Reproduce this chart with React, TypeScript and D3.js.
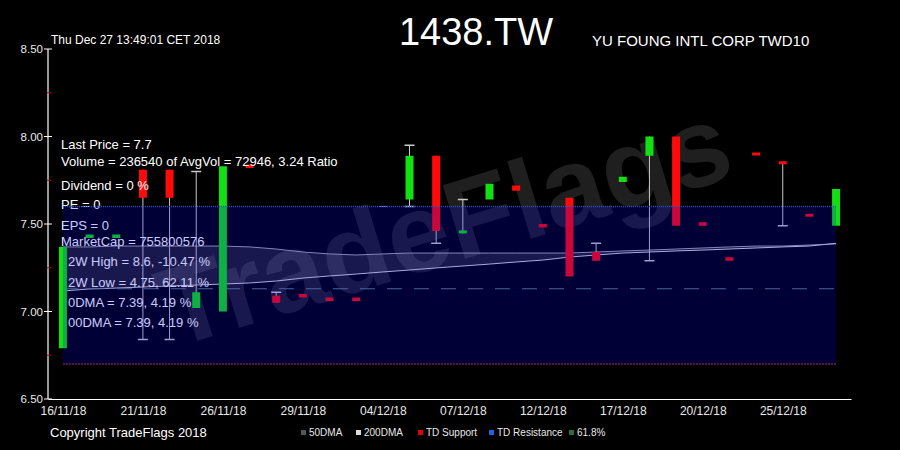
import React, { useEffect, useRef } from "react";
import * as d3 from "d3";

// trading days shown on the chart
const dates = [
  "16/11/18", "19/11/18", "20/11/18", "21/11/18", "22/11/18", "23/11/18",
  "26/11/18", "27/11/18", "28/11/18", "29/11/18", "30/11/18", "03/12/18",
  "04/12/18", "05/12/18", "06/12/18", "07/12/18", "10/12/18", "11/12/18",
  "12/12/18", "13/12/18", "14/12/18", "17/12/18", "18/12/18", "19/12/18",
  "20/12/18", "21/12/18", "24/12/18", "25/12/18", "26/12/18", "27/12/18",
];
const openVals = [
  6.79, 7.42, 7.42, 7.81, 7.81, 7.02, 7.0, 7.84, 7.09, 7.1, 7.08, 7.08,
  7.6, 7.64, 7.89, 7.445, 7.64, 7.72, 7.5, 7.65, 7.34, 7.74, 7.89, 8.0,
  7.51, 7.31, 7.9, 7.85, 7.55, 7.49,
];
const closeVals = [
  7.37, 7.44, 7.44, 7.65, 7.65, 7.11, 7.83, 7.82, 7.05, 7.08, 7.06, 7.06,
  7.6, 7.89, 7.46, 7.455, 7.73, 7.69, 7.48, 7.2, 7.29, 7.77, 8.0, 7.49,
  7.49, 7.29, 7.885, 7.835, 7.535, 7.7,
];
const highVals = [
  7.37, 7.44, 7.44, 7.81, 7.81, 7.8, 7.83, 7.84, 7.11, 7.1, 7.08, 7.08,
  7.6, 7.95, 7.89, 7.64, 7.73, 7.72, 7.5, 7.65, 7.39, 7.77, 8.0, 8.0,
  7.51, 7.31, 7.9, 7.85, 7.55, 7.7,
];
const lowVals = [
  6.79, 7.42, 7.42, 6.84, 6.84, 7.02, 7.0, 7.82, 7.05, 7.08, 7.06, 7.06,
  7.6, 7.6, 7.39, 7.445, 7.64, 7.69, 7.48, 7.2, 7.29, 7.74, 7.29, 7.49,
  7.49, 7.29, 7.885, 7.49, 7.535, 7.49,
];
const dma50 = [
  7.369, 7.369, 7.374, 7.374, 7.374, 7.374, 7.374, 7.369, 7.357, 7.34,
  7.329, 7.323, 7.329, 7.334, 7.334, 7.334, 7.334, 7.334, 7.334, 7.334,
  7.34, 7.346, 7.351, 7.357, 7.363, 7.369, 7.374, 7.374, 7.38, 7.386,
];
const dma200 = [
  7.117, 7.129, 7.134, 7.14, 7.146, 7.151, 7.157, 7.163, 7.174, 7.191,
  7.203, 7.214, 7.226, 7.237, 7.249, 7.26, 7.271, 7.283, 7.294, 7.311,
  7.323, 7.334, 7.34, 7.346, 7.351, 7.357, 7.363, 7.369, 7.374, 7.39,
];
const tdResistance = 7.6;
const tdSupport = 6.7;
const fib618 = 7.13;
const yTicks = [6.5, 7.0, 7.5, 8.0, 8.5];
const yMinorTicks = [6.75, 7.25, 7.75, 8.25];
const infoLines = [
  "Last Price = 7.7",
  "Volume = 236540 of AvgVol = 72946, 3.24 Ratio",
  "Dividend = 0 %",
  "PE = 0",
  "EPS = 0",
  "MarketCap = 755800576",
  "2W High = 8.6, -10.47 %",
  "2W Low = 4.75, 62.11 %",
  "0DMA = 7.39, 4.19 %",
  "00DMA = 7.39, 4.19 %",
];
const legendItems = [
  { name: "50DMA", color: "#4a5a55" },
  { name: "200DMA", color: "#dcdcdc" },
  { name: "TD Support", color: "#e00000" },
  { name: "TD Resistance", color: "#1a66e6" },
  { name: "61.8%", color: "#2f7030" },
];

const W = 900;
const H = 450;
const font = "'Liberation Sans', Arial, sans-serif";

export default function App() {
  const xAxisRef = useRef<SVGGElement>(null);

  useEffect(() => {
    document.body.style.margin = "0";
    document.body.style.background = "#000";
  }, []);

  const x = d3.scalePoint<string>().domain(dates).range([48, 851]).padding(0.56);
  const y = d3.scaleLinear().domain([6.5, 8.5]).range([399, 49]);

  useEffect(() => {
    const g = d3.select(xAxisRef.current);
    g.selectAll("*").remove();
    g.call(
      d3
        .axisBottom(x)
        .tickValues(dates.filter((_, i) => i % 3 === 0))
        .tickSize(0)
        .tickPadding(7)
    );
    g.select(".domain").attr("stroke", "#fff").attr("stroke-width", 1.2);
    g.selectAll("text")
      .attr("fill", "#e8e8e8")
      .style("font-family", font)
      .style("font-size", "12px");
  }, []);

  const area = d3
    .area<number>()
    .x((_, i) => x(dates[i])!)
    .y0((_, i) => y(dma200[i]))
    .y1((d) => y(d));
  const maLine = d3.line<number>().x((_, i) => x(dates[i])!).y((d) => y(d));

  const x0 = x(dates[0])!;
  const x1 = x(dates[dates.length - 1])!;
  const bw = 8;
  const capW = 10;
  const infoY = [149, 166, 190, 209, 230, 246, 266, 287, 307, 327];
  const legendX = [301, 356, 418, 489, 569];

  return (
    <svg width={W} height={H} style={{ display: "block", background: "#000" }}>
      <rect width={W} height={H} fill="#000" />
      {/* watermark */}
      <text
        x={455}
        y={262}
        textAnchor="middle"
        fontSize={112}
        fontWeight="bold"
        fontFamily={font}
        fill="#1f1f1f"
        transform="rotate(-17 455 262)"
      >
        TradeFlags
      </text>

      {/* moving averages */}
      <path d={area(dma50) || ""} fill="rgba(255,255,255,0.12)" />
      <path d={maLine(dma50) || ""} fill="none" stroke="#a8a8a8" strokeWidth={1} />
      <path d={maLine(dma200) || ""} fill="none" stroke="#d8d8d8" strokeWidth={1} />

      {/* 61.8% level */}
      <line x1={x0} x2={x1} y1={y(fib618)} y2={y(fib618)} stroke="#5f7f80" strokeWidth={1.2} strokeDasharray="15 12" />

      {/* candles */}
      {dates.map((d, i) => {
        const cx = x(d)!;
        const o = openVals[i];
        const c = closeVals[i];
        const top = Math.max(o, c);
        const bot = Math.min(o, c);
        const color = c > o ? "#12e012" : c < o ? "#ff0a0a" : "#8090c0";
        const flat = o === c;
        const bodyH = flat ? 1 : Math.max(3, y(bot) - y(top));
        const bodyTop = y(top) - (bodyH <= 3 ? bodyH / 2 : 0);
        const hasTop = highVals[i] > top + 0.005;
        const hasBot = lowVals[i] < bot - 0.005;
        return (
          <g key={d}>
            {hasTop || hasBot ? (
              <line x1={cx} x2={cx} y1={y(highVals[i])} y2={y(lowVals[i])} stroke="#c8c8c8" strokeWidth={1} />
            ) : null}
            {hasTop ? (
              <line x1={cx - capW / 2} x2={cx + capW / 2} y1={y(highVals[i])} y2={y(highVals[i])} stroke="#c8c8c8" strokeWidth={1.5} />
            ) : null}
            {hasBot ? (
              <line x1={cx - capW / 2} x2={cx + capW / 2} y1={y(lowVals[i])} y2={y(lowVals[i])} stroke="#c8c8c8" strokeWidth={1.5} />
            ) : null}
            <rect x={cx - bw / 2} y={bodyTop} width={bw} height={bodyH} fill={color} />
          </g>
        );
      })}

      {infoLines.map((t, i) => (
        <text key={i} x={i >= 6 ? 68 : 61} y={infoY[i]} fill="#fff" fontSize={13} fontFamily={font}>
          {t}
        </text>
      ))}

      {/* TD zone overlay */}
      <rect
        x={x0}
        y={y(tdResistance)}
        width={x1 - x0}
        height={y(tdSupport) - y(tdResistance)}
        fill="rgba(0,0,255,0.21)"
      />
      <line x1={x0} x2={x1} y1={y(tdResistance)} y2={y(tdResistance)} stroke="#2d55c0" strokeWidth={1.5} strokeDasharray="1 1" />
      <line x1={x0} x2={x1} y1={y(tdSupport)} y2={y(tdSupport)} stroke="#a03070" strokeWidth={1.2} strokeDasharray="2 1" />

      {/* y axis */}
      <line x1={48} x2={48} y1={49} y2={399} stroke="#fff" strokeWidth={1.2} />
      {yTicks.map((t) => (
        <g key={t}>
          <line x1={44} x2={52} y1={y(t)} y2={y(t)} stroke="#fff" strokeWidth={1} />
          <text x={43} y={y(t) + 4} textAnchor="end" fill="#e8e8e8" fontSize={11.5} fontFamily={font}>
            {d3.format(".2f")(t)}
          </text>
        </g>
      ))}
      {yMinorTicks.map((t) => (
        <line key={t} x1={47} x2={51} y1={y(t)} y2={y(t)} stroke="#c00000" strokeWidth={1} />
      ))}

      {/* x axis */}
      <g ref={xAxisRef} transform="translate(0,399)" />

      {/* titles */}
      <text x={51} y={44} fill="#fff" fontSize={12} fontFamily={font}>
        Thu Dec 27 13:49:01 CET 2018
      </text>
      <text x={476} y={45} textAnchor="middle" fill="#fff" fontSize={38} fontFamily={font}>
        1438.TW
      </text>
      <text x={592} y={46} fill="#fff" fontSize={15} fontFamily={font}>
        YU FOUNG INTL CORP TWD10
      </text>

      {/* footer */}
      <text x={50} y={437} fill="#fff" fontSize={13} fontFamily={font}>
        Copyright TradeFlags 2018
      </text>
      {legendItems.map((l, i) => (
        <g key={l.name}>
          <rect x={legendX[i]} y={430} width={5} height={5} fill={l.color} />
          <text x={legendX[i] + 8} y={436} fill="#e8e8e8" fontSize={10} fontFamily={font}>
            {l.name}
          </text>
        </g>
      ))}
    </svg>
  );
}
